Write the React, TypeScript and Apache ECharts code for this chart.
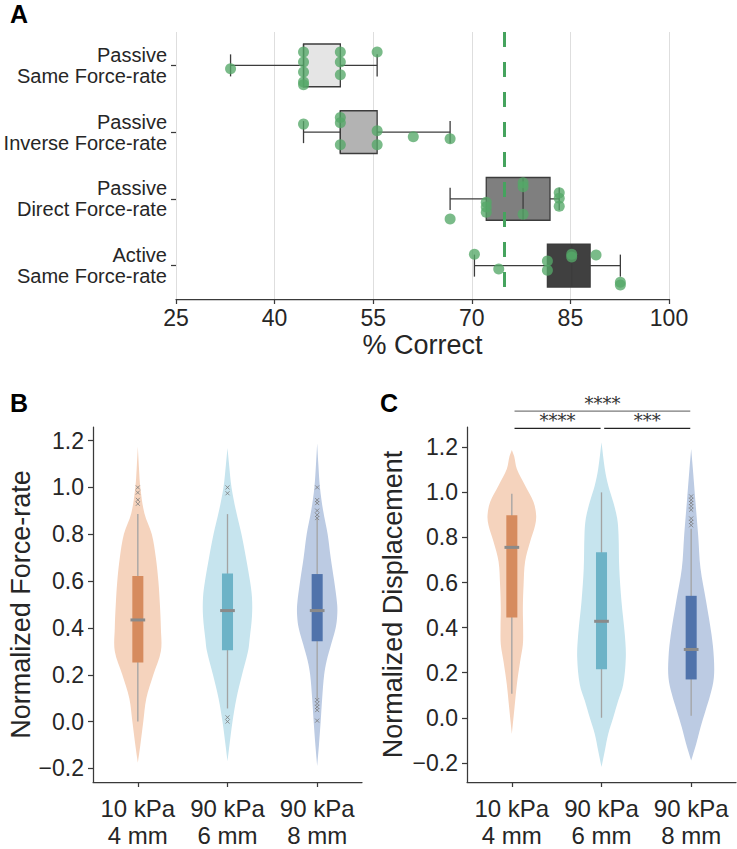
import React, { useEffect, useRef } from 'react';
import * as echarts from 'echarts';

// ---------- Panel A data ----------
const aCategories = [
  'Passive\nSame Force-rate',
  'Passive\nInverse Force-rate',
  'Passive\nDirect Force-rate',
  'Active\nSame Force-rate',
];
const aTicks = [25, 40, 55, 70, 85, 100];
// [lower whisker, Q1, median, Q3, upper whisker]
const aBoxStats = [
  [33.3, 44.4, 44.4, 50.0, 55.6],
  [44.4, 50.0, 50.0, 55.6, 66.7],
  [66.7, 72.2, 77.8, 81.9, 83.3],
  [70.4, 81.5, 85.2, 88.0, 92.6],
];
const aPointValues = [
  [33.3, 44.4, 44.4, 44.4, 44.4, 44.4, 50.0, 50.0, 50.0, 55.6],
  [44.4, 50.0, 50.0, 50.0, 55.6, 55.6, 61.1, 66.7],
  [66.7, 72.2, 72.2, 72.2, 77.8, 77.8, 77.8, 83.3, 83.3, 83.3],
  [70.4, 74.1, 81.5, 81.5, 85.2, 85.2, 88.9, 92.6, 92.6],
];
// strip-plot jitter (category units)
const aPointJitter = [
  [0.05, -0.2, -0.05, 0.1, 0.25, 0.29, -0.2, -0.05, 0.14, -0.2],
  [-0.12, -0.22, -0.14, 0.19, -0.02, 0.19, 0.07, 0.1],
  [0.3, 0.05, 0.12, 0.2, -0.24, -0.18, 0.23, -0.09, -0.01, 0.11],
  [-0.17, 0.05, -0.07, 0.07, -0.17, -0.13, -0.16, 0.25, 0.29],
];
const chanceLevel = 75;

// ---------- Panels B & C data ----------
const bcCategories = ['10 kPa\n4 mm', '90 kPa\n6 mm', '90 kPa\n8 mm'];
const bcYTicks = [-0.2, 0, 0.2, 0.4, 0.6, 0.8, 1.0, 1.2];

// violin profiles: levels (y values) and half widths (fraction of category band)
const bViolinLevels = [
  [1.175, 1.08, 1.0, 0.89, 0.8, 0.7, 0.6, 0.5, 0.4, 0.3, 0.2, 0.1, 0.0, -0.1, -0.176],
  [1.168, 1.1, 1.0, 0.9, 0.8, 0.7, 0.6, 0.53, 0.45, 0.35, 0.3, 0.2, 0.1, 0.0, -0.1, -0.169],
  [1.189, 1.1, 1.0, 0.9, 0.8, 0.7, 0.6, 0.5, 0.45, 0.4, 0.33, 0.26, 0.2, 0.1, 0.0, -0.1, -0.19],
];
const bViolinWidths = [
  [0, 0.013, 0.028, 0.073, 0.156, 0.201, 0.229, 0.246, 0.257, 0.257, 0.173, 0.095, 0.061, 0.028, 0],
  [0, 0.017, 0.045, 0.095, 0.156, 0.206, 0.251, 0.273, 0.273, 0.246, 0.229, 0.162, 0.1, 0.056, 0.022, 0],
  [0, 0.013, 0.031, 0.067, 0.117, 0.151, 0.19, 0.223, 0.223, 0.206, 0.156, 0.106, 0.078, 0.056, 0.039, 0.02, 0],
];
const cViolinLevels = [
  [1.188, 1.16, 1.104, 1.031, 0.957, 0.898, 0.854, 0.781, 0.693, 0.589, 0.487, 0.398, 0.325, 0.251, 0.148, 0.045, -0.072],
  [1.222, 1.104, 1.031, 0.957, 0.884, 0.81, 0.663, 0.516, 0.369, 0.266, 0.148, 0.075, 0.001, -0.072, -0.146, -0.219],
  [1.192, 1.104, 0.957, 0.81, 0.663, 0.516, 0.369, 0.266, 0.178, 0.104, 0.031, -0.043, -0.116, -0.19],
];
const cViolinWidths = [
  [0, 0.026, 0.056, 0.148, 0.242, 0.271, 0.26, 0.204, 0.148, 0.131, 0.123, 0.126, 0.123, 0.093, 0.056, 0.03, 0],
  [0, 0.037, 0.075, 0.131, 0.175, 0.19, 0.198, 0.223, 0.26, 0.271, 0.242, 0.186, 0.131, 0.075, 0.037, 0],
  [0, 0.019, 0.048, 0.078, 0.104, 0.167, 0.227, 0.253, 0.253, 0.215, 0.16, 0.104, 0.056, 0],
];
// [lower whisker, Q1, median, Q3, upper whisker]
const bBoxStats = [
  [0.0, 0.252, 0.434, 0.622, 0.886],
  [0.056, 0.305, 0.474, 0.632, 0.886],
  [0.098, 0.343, 0.474, 0.63, 0.866],
];
const cBoxStats = [
  [0.107, 0.445, 0.756, 0.898, 0.994],
  [0.0, 0.215, 0.428, 0.734, 1.0],
  [0.009, 0.17, 0.303, 0.541, 0.839],
];
const bOutliers = [
  [1.0, 0.978, 0.947, 0.93],
  [1.0, 0.975, 0.018, 0.0],
  [1.0, 0.946, 0.933, 0.901, 0.883, 0.869, 0.092, 0.077, 0.063, 0.049, 0.004],
];
const cOutliers = [
  [],
  [],
  [0.982, 0.967, 0.953, 0.938, 0.923, 0.884, 0.869, 0.854],
];
// significance brackets: [from category, to category, level, label]
const cSignificance: [number, number, number, string][] = [
  [0, 2, 1.36, '****'],
  [0, 1, 1.284, '****'],
  [1, 2, 1.284, '***'],
];

// ---------- styles ----------
const FONT = '"Liberation Sans", Arial, sans-serif';
const TEXT = '#262626';
const AXIS = '#3a3a3a';
const aBoxFills = ['#e5e5e5', '#b3b3b3', '#7f7f7f', '#404040'];
const violinFills = ['#f5d3bd', '#c6e4ee', '#bccbe3'];
const boxFills = ['#d68b5e', '#6db3c7', '#5073ab'];

const fmtY = (v: number) => {
  const s = (Math.round(v * 10) / 10).toFixed(1);
  return s.startsWith('-') ? '\u2212' + s.slice(1) : s;
};

function violinRender(levelsArr: number[][], widthsArr: number[][], statsArr: number[][]) {
  return (params: any, api: any) => {
    const i = params.dataIndex;
    const cat = api.value(0);
    const band = api.size([1, 0])[0];
    const cx = api.coord([cat, 0])[0];
    const levels = levelsArr[i];
    const widths = widthsArr[i];
    const right: number[][] = [];
    const left: number[][] = [];
    for (let k = 0; k < levels.length; k++) {
      const y = api.coord([cat, levels[k]])[1];
      right.push([cx + widths[k] * band, y]);
      left.push([cx - widths[k] * band, y]);
    }
    const pts = right.concat(left.reverse());
    const s = statsArr[i];
    const yLo = api.coord([cat, s[0]])[1];
    const yQ1 = api.coord([cat, s[1]])[1];
    const yMed = api.coord([cat, s[2]])[1];
    const yQ3 = api.coord([cat, s[3]])[1];
    const yHi = api.coord([cat, s[4]])[1];
    const bw = 0.0615 * band;
    const mw = 0.082 * band;
    return {
      type: 'group',
      children: [
        { type: 'polygon', shape: { points: pts, smooth: 0.35 }, style: { fill: violinFills[i] } },
        { type: 'line', shape: { x1: cx, y1: yHi, x2: cx, y2: yLo }, style: { stroke: '#a3a3a3', lineWidth: 1.3 } },
        { type: 'rect', shape: { x: cx - bw, y: yQ3, width: bw * 2, height: yQ1 - yQ3 }, style: { fill: boxFills[i] } },
        { type: 'line', shape: { x1: cx - mw, y1: yMed, x2: cx + mw, y2: yMed }, style: { stroke: '#8a8a8a', lineWidth: 3 } },
      ],
    };
  };
}

const xSymbol = 'path://M0,0L10,10M10,0L0,10';

function outlierData(out: number[][]) {
  const d: number[][] = [];
  out.forEach((vals, i) => vals.forEach((v) => d.push([i, v])));
  return d;
}

export default function App() {
  const ref = useRef<HTMLDivElement>(null);
  useEffect(() => {
    if (!ref.current) return;
    const chart = echarts.init(ref.current, undefined, { renderer: 'svg' });

    const aPoints: number[][] = [];
    aPointValues.forEach((vals, i) =>
      vals.forEach((v, k) => aPoints.push([v, i + aPointJitter[i][k]]))
    );

    const bcYAxisBase = (min: number, max: number, name: string, gap: number, gridIndex: number) => ({
      type: 'value',
      gridIndex,
      min,
      max,
      name,
      nameLocation: 'middle',
      nameGap: gap,
      nameTextStyle: { fontFamily: FONT, fontSize: 27, color: TEXT },
      axisLine: { show: true, onZero: false, lineStyle: { color: AXIS, width: 1.25 } },
      axisTick: { show: true, length: 5, customValues: bcYTicks, lineStyle: { color: AXIS, width: 1.25 } },
      axisLabel: { customValues: bcYTicks, formatter: fmtY, fontFamily: FONT, fontSize: 23, color: TEXT, margin: 9 },
      splitLine: { show: false },
    });
    const bcXAxis = (gridIndex: number) => ({
      type: 'category',
      gridIndex,
      data: bcCategories,
      axisLine: { show: true, onZero: false, lineStyle: { color: AXIS, width: 1.25 } },
      axisTick: { show: true, alignWithLabel: true, interval: 0, length: 5, lineStyle: { color: AXIS, width: 1.25 } },
      axisLabel: { interval: 0, hideOverlap: false, fontFamily: FONT, fontSize: 24, lineHeight: 27, color: TEXT, margin: 13 },
      splitLine: { show: false },
    });

    const option: any = {
      animation: false,
      backgroundColor: '#ffffff',
      grid: [
        { left: 176, top: 32, width: 493, height: 267 },
        { left: 93, top: 427, width: 269, height: 359 },
        { left: 467, top: 427, width: 269, height: 358 },
      ],
      xAxis: [
        {
          type: 'value',
          gridIndex: 0,
          min: 25,
          max: 100,
          name: '% Correct',
          nameLocation: 'middle',
          nameGap: 32,
          nameTextStyle: { fontFamily: FONT, fontSize: 27, color: TEXT },
          axisLine: { show: true, onZero: false, lineStyle: { color: AXIS, width: 1.25 } },
          axisTick: { show: true, length: 5, customValues: aTicks, lineStyle: { color: AXIS, width: 1.25 } },
          axisLabel: { customValues: aTicks, fontFamily: FONT, fontSize: 23, color: TEXT, margin: 7 },
          splitLine: { show: true, lineStyle: { color: '#dedede', width: 1 } },
        },
        bcXAxis(1),
        bcXAxis(2),
      ],
      yAxis: [
        {
          type: 'value',
          gridIndex: 0,
          min: -0.5,
          max: 3.5,
          inverse: true,
          axisLine: { show: false, onZero: false },
          axisTick: { show: true, length: 5, customValues: [0, 1, 2, 3], lineStyle: { color: AXIS, width: 1.25 } },
          axisLabel: {
            customValues: [0, 1, 2, 3],
            formatter: (v: number) => aCategories[Math.round(v)],
            fontFamily: FONT,
            fontSize: 20,
            lineHeight: 21,
            color: TEXT,
            margin: 9,
            align: 'right',
          },
          splitLine: { show: false },
        },
        bcYAxisBase(-0.258, 1.258, 'Normalized Force-rate', 58, 1),
        bcYAxisBase(-0.285, 1.29, 'Normalized Displacement', 61, 2),
      ],
      series: [
        {
          type: 'custom',
          xAxisIndex: 0,
          yAxisIndex: 0,
          data: aBoxStats.map((s, i) => [s[0], i, s[1], s[2], s[3], s[4]]),
          encode: { x: [0, 2, 3, 4, 5], y: 1 },
          renderItem: (params: any, api: any) => {
            const i = params.dataIndex;
            const s = aBoxStats[i];
            const unit = api.size([0, 1])[1];
            const cy = api.coord([s[0], i])[1];
            const xLo = api.coord([s[0], i])[0];
            const xQ1 = api.coord([s[1], i])[0];
            const xMed = api.coord([s[2], i])[0];
            const xQ3 = api.coord([s[3], i])[0];
            const xHi = api.coord([s[4], i])[0];
            const bh = 0.32 * unit;
            const ch = 0.165 * unit;
            const st = { stroke: '#3c3c3c', lineWidth: 1.3 };
            return {
              type: 'group',
              children: [
                { type: 'line', shape: { x1: xLo, y1: cy, x2: xQ1, y2: cy }, style: st },
                { type: 'line', shape: { x1: xQ3, y1: cy, x2: xHi, y2: cy }, style: st },
                { type: 'line', shape: { x1: xLo, y1: cy - ch, x2: xLo, y2: cy + ch }, style: st },
                { type: 'line', shape: { x1: xHi, y1: cy - ch, x2: xHi, y2: cy + ch }, style: st },
                {
                  type: 'rect',
                  shape: { x: xQ1, y: cy - bh, width: xQ3 - xQ1, height: bh * 2 },
                  style: { fill: aBoxFills[i], stroke: '#3c3c3c', lineWidth: 1.3 },
                },
                { type: 'line', shape: { x1: xMed, y1: cy - bh, x2: xMed, y2: cy + bh }, style: st },
              ],
            };
          },
          z: 2,
        },
        {
          type: 'scatter',
          xAxisIndex: 0,
          yAxisIndex: 0,
          data: aPoints,
          symbolSize: 11,
          itemStyle: { color: '#55a868', opacity: 0.78 },
          z: 3,
          markLine: {
            silent: true,
            symbol: ['none', 'none'],
            label: { show: false },
            lineStyle: { color: '#45a35e', width: 3, type: [15, 15], opacity: 1 },
            data: [{ xAxis: chanceLevel }],
          },
        },
        {
          type: 'custom',
          xAxisIndex: 1,
          yAxisIndex: 1,
          data: bBoxStats.map((s, i) => [i, s[2]]),
          renderItem: violinRender(bViolinLevels, bViolinWidths, bBoxStats),
          z: 2,
        },
        {
          type: 'scatter',
          xAxisIndex: 1,
          yAxisIndex: 1,
          data: outlierData(bOutliers),
          symbol: xSymbol,
          symbolSize: 4,
          itemStyle: { color: 'none', borderColor: '#7a7a7a', borderWidth: 1 },
          z: 3,
        },
        {
          type: 'custom',
          xAxisIndex: 2,
          yAxisIndex: 2,
          data: cBoxStats.map((s, i) => [i, s[2]]),
          renderItem: violinRender(cViolinLevels, cViolinWidths, cBoxStats),
          z: 2,
        },
        {
          type: 'scatter',
          xAxisIndex: 2,
          yAxisIndex: 2,
          data: outlierData(cOutliers),
          symbol: xSymbol,
          symbolSize: 4,
          itemStyle: { color: 'none', borderColor: '#7a7a7a', borderWidth: 1 },
          z: 3,
        },
        {
          type: 'custom',
          xAxisIndex: 2,
          yAxisIndex: 2,
          clip: false,
          data: cSignificance.map((s) => [s[0], s[2], s[1]]),
          renderItem: (params: any, api: any) => {
            const sg = cSignificance[params.dataIndex];
            const band = api.size([1, 0])[0];
            const p1 = api.coord([sg[0], sg[2]]);
            const p2 = api.coord([sg[1], sg[2]]);
            const x1 = p1[0] + 0.03 * band;
            const x2 = p2[0] - 0.01 * band;
            const top = params.dataIndex === 0;
            return {
              type: 'group',
              children: [
                {
                  type: 'line',
                  shape: { x1, y1: p1[1], x2, y2: p1[1] },
                  style: { stroke: top ? '#7a7a7a' : '#222222', lineWidth: 1.3 },
                },
                {
                  type: 'text',
                  x: (x1 + x2) / 2,
                  y: p1[1] - 8,
                  style: {
                    text: sg[3],
                    fill: '#333333',
                    font: '18px "DejaVu Serif", serif',
                    textAlign: 'center',
                    textVerticalAlign: 'middle',
                  },
                },
              ],
            };
          },
          z: 4,
        },
      ],
      graphic: [
        { type: 'text', left: 10, top: 1, style: { text: 'A', font: 'bold 25px "Liberation Sans", Arial, sans-serif', fill: '#000' } },
        { type: 'text', left: 10, top: 390, style: { text: 'B', font: 'bold 25px "Liberation Sans", Arial, sans-serif', fill: '#000' } },
        { type: 'text', left: 380, top: 390, style: { text: 'C', font: 'bold 25px "Liberation Sans", Arial, sans-serif', fill: '#000' } },
      ],
    };
    chart.setOption(option);
    return () => chart.dispose();
  }, []);
  return (
    <div
      ref={ref}
      style={{ position: 'fixed', left: 0, top: 0, width: 737, height: 849, background: '#fff' }}
    />
  );
}
